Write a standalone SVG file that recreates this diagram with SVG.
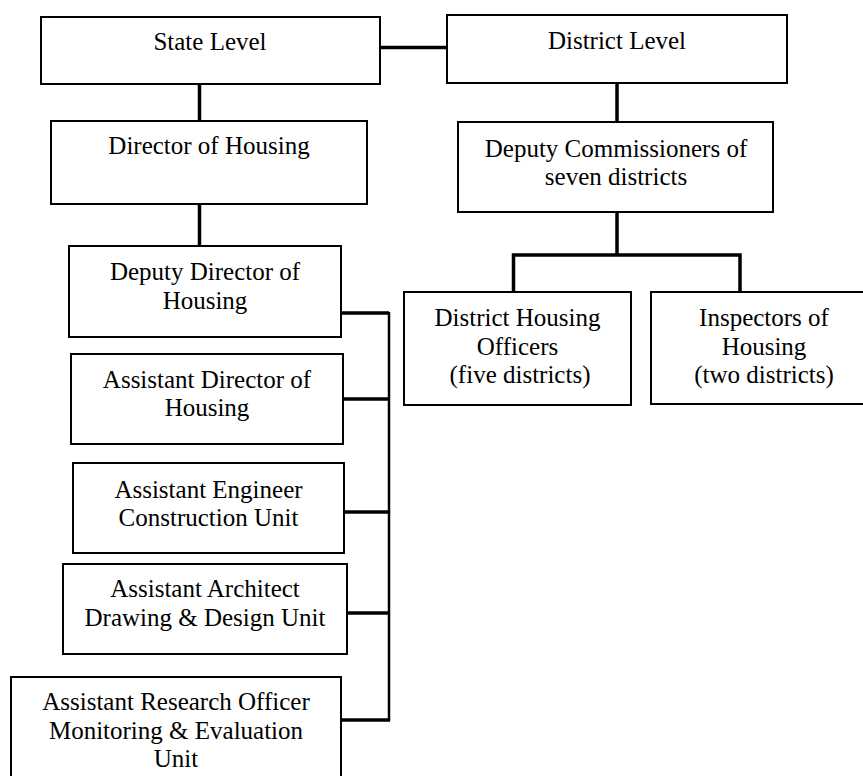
<svg xmlns="http://www.w3.org/2000/svg" width="863" height="776" viewBox="0 0 863 776">
<style>
.box{fill:#fff;stroke:#000;stroke-width:2}
.t{font-family:"Liberation Serif","Times New Roman",serif;font-size:25px;fill:#000;text-anchor:middle}
.c{stroke:#000;stroke-width:3.5;fill:none}
.bus{stroke:#000;stroke-width:2.5;fill:none}
</style>
<rect width="863" height="776" fill="#fff"/>
<g id="connectors">
<line class="c" x1="380" y1="47.5" x2="447" y2="47.5"/>
<line class="c" x1="199.5" y1="84" x2="199.5" y2="121"/>
<line class="c" x1="199.5" y1="204" x2="199.5" y2="246"/>
<line class="c" x1="617" y1="83" x2="617" y2="122"/>
<line class="c" x1="617" y1="212" x2="617" y2="255"/>
<polyline class="c" points="513.5,292 513.5,255 740,255 740,292"/>
<line class="bus" x1="389" y1="312" x2="389" y2="721"/>
<line class="c" x1="342" y1="313" x2="389" y2="313"/>
<line class="c" x1="343" y1="399" x2="389" y2="399"/>
<line class="c" x1="344" y1="512" x2="389" y2="512"/>
<line class="c" x1="347" y1="613" x2="389" y2="613"/>
<line class="c" x1="341" y1="720" x2="390" y2="720"/>
</g>
<g id="state-level">
<rect class="box" x="41" y="17" width="339" height="67"/>
<text class="t" x="210" y="50">State Level</text>
</g>
<g id="district-level">
<rect class="box" x="447" y="15" width="340" height="68"/>
<text class="t" x="617" y="49">District Level</text>
</g>
<g id="director-of-housing">
<rect class="box" x="51" y="121" width="316" height="83"/>
<text class="t" x="209" y="154">Director of Housing</text>
</g>
<g id="deputy-commissioners">
<rect class="box" x="458" y="122" width="315" height="90"/>
<text class="t" x="616" y="157">Deputy Commissioners of</text>
<text class="t" x="616" y="185">seven districts</text>
</g>
<g id="deputy-director">
<rect class="box" x="69" y="246" width="272" height="91"/>
<text class="t" x="205" y="280">Deputy Director of</text>
<text class="t" x="205" y="309">Housing</text>
</g>
<g id="district-housing-officers">
<rect class="box" x="404" y="292" width="227" height="113"/>
<text class="t" x="517.5" y="326">District Housing</text>
<text class="t" x="517.5" y="355">Officers</text>
<text class="t" x="520" y="383">(five districts)</text>
</g>
<g id="inspectors-of-housing">
<rect class="box" x="651" y="292" width="226" height="112"/>
<text class="t" x="764" y="326">Inspectors of</text>
<text class="t" x="764" y="355">Housing</text>
<text class="t" x="764" y="383">(two districts)</text>
</g>
<g id="assistant-director">
<rect class="box" x="71" y="354" width="272" height="90"/>
<text class="t" x="207" y="388">Assistant Director of</text>
<text class="t" x="207" y="416">Housing</text>
</g>
<g id="assistant-engineer">
<rect class="box" x="73" y="463" width="271" height="90"/>
<text class="t" x="208.5" y="498">Assistant Engineer</text>
<text class="t" x="208.5" y="526">Construction Unit</text>
</g>
<g id="assistant-architect">
<rect class="box" x="63" y="564" width="284" height="90"/>
<text class="t" x="205" y="597">Assistant Architect</text>
<text class="t" x="205" y="626">Drawing &amp; Design Unit</text>
</g>
<g id="assistant-research-officer">
<rect class="box" x="11" y="677" width="330" height="112"/>
<text class="t" x="176" y="710">Assistant Research Officer</text>
<text class="t" x="176" y="739">Monitoring &amp; Evaluation</text>
<text class="t" x="176" y="767">Unit</text>
</g>
</svg>
